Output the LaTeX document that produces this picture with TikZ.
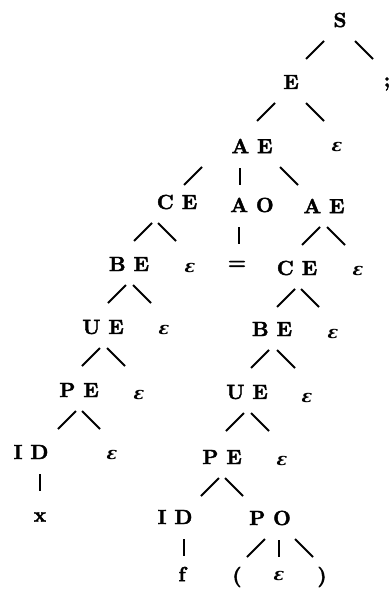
\documentclass[tikz,border=0pt]{standalone}
\usepackage{fontspec}
\usepackage{tikz}
\usetikzlibrary{calc}
\newfontface\treefont{lmroman10-bold.otf}[FakeBold=2]
\newfontface\epsfont{DejaVu Serif Bold Italic}
\tikzset{
  sym/.style={font=\fontsize{20.5}{24}\treefont, inner sep=0pt},
  eps/.style={font=\fontsize{17.5}{20}\epsfont, inner sep=0pt},
  lbr/.style={to path={($(\tikztostart)+(#1,21)$) -- ++(-18,18)}},
  rbr/.style={to path={($(\tikztostart)+(#1,21)$) -- ++(18,18)}},
  vbr/.style={to path={($(\tikztostart)+(#1,22)$) -- ++(0,17)}},
  lbr/.default=-3, rbr/.default=4, vbr/.default=9
}

\begin{document}
\begin{tikzpicture}[x=1pt,y=-1pt,line width=1.9pt]
    \useasboundingbox (0,0) rectangle (391,591);
    \foreach \n/\t/\px/\py in {S/S/340/20, semi/;/387/84, E/E/291/82, AEa/A E/252/146,
        CEa/C E/177/202, AO/A O/252/205, AEb/A E/324/206, eq/=/237/265, CEb/C E/297/268,
        BEa/B E/129/264, BEb/B E/272/329, UEa/U E/103/327, UEb/U E/247/392,
        PEa/P E/79/390, PEb/P E/222/457, IDa/I D/31/452, IDb/I D/175/517, PO/P O/270/518,
        x/x/40/517, f/f/182/574, lp/{(}/237/577, rp/{)}/322/577} {
      \node[sym] (\n) at (\px,\py) {\t};
    }
    \foreach \n/\px/\py in {e1/337/147, e2/190/268, e3/358/271, e4/164/330, e5/139/395,
        e6/112/455, e7/333/334, e8/307/398, e9/282/461, e10/279/576} {
      \node[eps] (\n) at (\px,\py) {ε};
    }
    \foreach \a/\b/\d in {S/E/-16, E/AEa/-16, AEa/CEa/-50, AEb/CEb/-4, CEa/BEa/-25,
        CEb/BEb/-2, BEa/UEa/-3, BEb/UEb/-3, UEa/PEa/-3, UEb/PEb/-3, PEa/IDa/-3,
        PEb/IDb/-3, PO/lp/-5} {
      \draw (\a) to[lbr=\d] (\b);
    }
    \foreach \a/\b/\d in {S/semi/15, E/e1/15, AEa/AEb/28, AEb/e3/3, CEa/e2/-19,
        CEb/e7/4, BEa/e4/4, BEb/e8/5, UEa/e5/4, UEb/e9/4, PEa/e6/3, PEb/PO/3, PO/rp/25} {
      \draw (\a) to[rbr=\d] (\b);
    }
    \foreach \a/\b/\d in {AEa/AO/-12, AO/eq/-13, IDa/x/9, IDb/f/9, PO/e10/9} {
      \draw (\a) to[vbr=\d] (\b);
    }
\end{tikzpicture}
\end{document}
